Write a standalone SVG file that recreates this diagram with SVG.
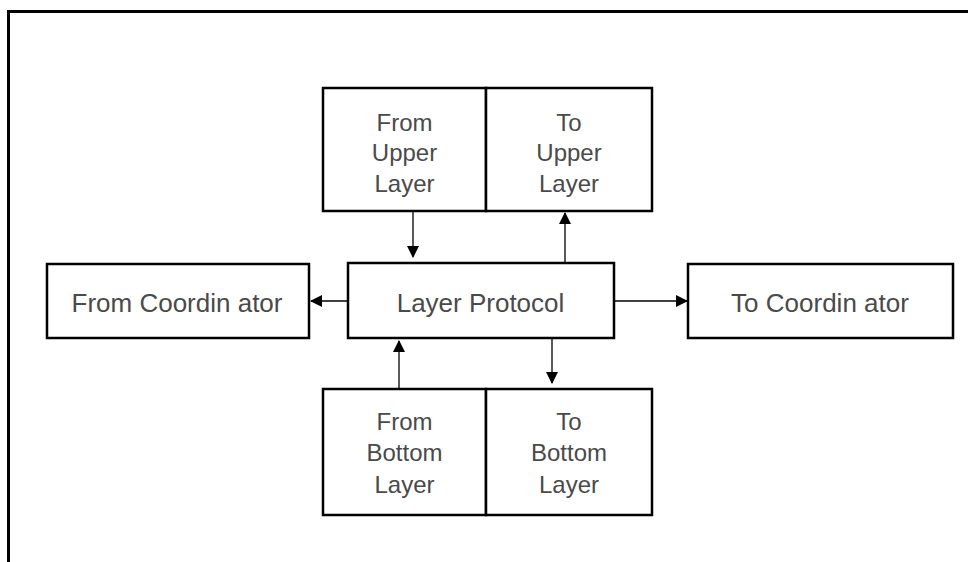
<svg xmlns="http://www.w3.org/2000/svg" width="968" height="562" viewBox="0 0 968 562">
  <style>
    .box { fill: #ffffff; stroke: #000000; stroke-width: 2.5; }
    .lbl { font-family: "Liberation Sans", Arial, sans-serif; font-size: 24px; fill: #4a4a4a; text-anchor: middle; }
    .big { font-size: 26px; }
    .conn { stroke: #000000; stroke-width: 1.3; fill: none; marker-end: url(#arrow); }
  </style>
  <defs>
    <marker id="arrow" viewBox="0 0 12 12" refX="11" refY="6" markerWidth="12" markerHeight="12" markerUnits="userSpaceOnUse" orient="auto">
      <path d="M0,0 L12,6 L0,12 Z" fill="#000000"/>
    </marker>
  </defs>
  <rect x="0" y="0" width="968" height="562" fill="#ffffff"/>
  <!-- outer frame, open on the right and bottom -->
  <path d="M8.5,562 L8.5,11.5 L968,11.5" fill="none" stroke="#000000" stroke-width="3"/>

  <g id="from-upper-layer">
    <rect class="box" x="323" y="88" width="163" height="123"/>
    <text class="lbl" x="404.5" y="131">From</text>
    <text class="lbl" x="404.5" y="161">Upper</text>
    <text class="lbl" x="404.5" y="192">Layer</text>
  </g>
  <g id="to-upper-layer">
    <rect class="box" x="486" y="88" width="166" height="123"/>
    <text class="lbl" x="569" y="131">To</text>
    <text class="lbl" x="569" y="161">Upper</text>
    <text class="lbl" x="569" y="192">Layer</text>
  </g>
  <g id="from-coordinator">
    <rect class="box" x="47" y="264" width="262" height="74"/>
    <text class="lbl big" x="177" y="312">From Coordin ator</text>
  </g>
  <g id="layer-protocol">
    <rect class="box" x="348" y="263" width="266" height="75"/>
    <text class="lbl big" x="480.5" y="312">Layer Protocol</text>
  </g>
  <g id="to-coordinator">
    <rect class="box" x="688" y="264" width="265" height="74"/>
    <text class="lbl big" x="820" y="312">To Coordin ator</text>
  </g>
  <g id="from-bottom-layer">
    <rect class="box" x="323" y="389" width="163" height="126"/>
    <text class="lbl" x="404.5" y="430">From</text>
    <text class="lbl" x="404.5" y="461">Bottom</text>
    <text class="lbl" x="404.5" y="493">Layer</text>
  </g>
  <g id="to-bottom-layer">
    <rect class="box" x="486" y="389" width="166" height="126"/>
    <text class="lbl" x="569" y="430">To</text>
    <text class="lbl" x="569" y="461">Bottom</text>
    <text class="lbl" x="569" y="493">Layer</text>
  </g>

  <g id="connectors">
    <line class="conn" x1="413" y1="212" x2="413" y2="257"/>
    <line class="conn" x1="565" y1="263" x2="565" y2="213"/>
    <line class="conn" x1="348" y1="301" x2="311" y2="301"/>
    <line class="conn" x1="614" y1="301" x2="687" y2="301"/>
    <line class="conn" x1="399" y1="389" x2="399" y2="341"/>
    <line class="conn" x1="552" y1="338" x2="552" y2="383"/>
  </g>
</svg>
